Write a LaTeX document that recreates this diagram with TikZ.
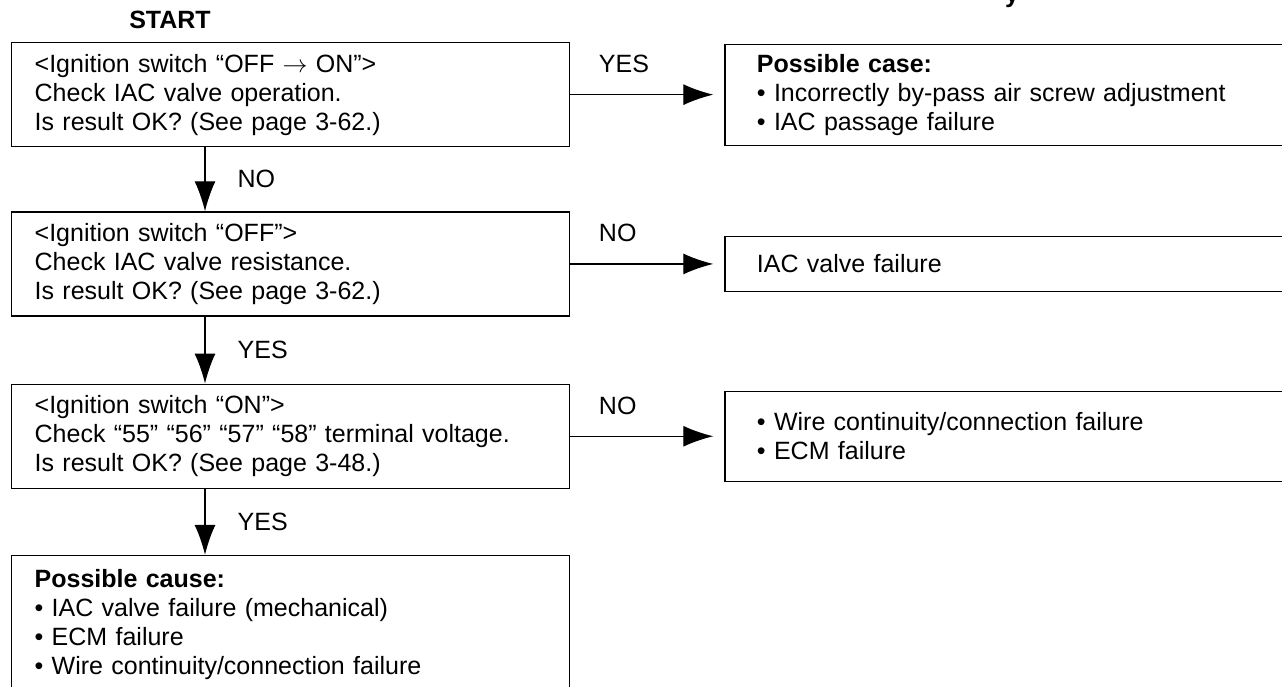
\documentclass[tikz,border=0pt]{standalone}
\usepackage{fontspec}
\setmainfont{Liberation Sans}
\usetikzlibrary{arrows.meta,positioning}

\tikzset{
  chkbox/.style={draw, line width=1.3pt, align=left, inner xsep=23pt, inner ysep=0pt,
    text width=512pt, minimum height=104pt, font=\fontsize{25}{29}\selectfont},
  resbox/.style={chkbox, inner xsep=32pt, text width=520pt},
  flow/.style={line width=1.3pt, -{Latex[length=30pt,width=21pt]}},
  lbl/.style={inner sep=0pt, font=\fontsize{25}{29}\selectfont}
}

\begin{document}
\begin{tikzpicture}[x=1pt, y=-1pt]
  \useasboundingbox (0,0) rectangle (1282,686);
  \clip (0,0) rectangle (1282,686);

  % Define coordinates
  \coordinate (dn) at (205,0);

  % Title and start
  \node[lbl, anchor=base, font=\bfseries\fontsize{25}{29}\selectfont] (ttl) at (1012,2) {y};
  \node[lbl, font=\bfseries\fontsize{25}{29}\selectfont] (start) at (170,20) {START};

  % Check steps
  \node[chkbox, anchor=north west] (s1) at (11,42)
    {<Ignition switch “OFF $\rightarrow$ ON”>\\Check IAC valve operation.\\Is result OK? (See page 3-62.)};
  \node[chkbox, below=64pt of s1] (s2)
    {<Ignition switch “OFF”>\\Check IAC valve resistance.\\Is result OK? (See page 3-62.)};
  \node[chkbox, below=67pt of s2] (s3)
    {<Ignition switch “ON”>\\Check “55” “56” “57” “58” terminal voltage.\\Is result OK? (See page 3-48.)};
  \node[chkbox, below=66pt of s3, minimum height=0pt, inner ysep=14pt] (s4)
    {\textbf{Possible cause:}\\\textbullet\ IAC valve failure (mechanical)\\\textbullet\ ECM failure\\\textbullet\ Wire continuity/connection failure\\[20pt]};

  % Results
  \node[resbox, right=154pt of s1, minimum height=101pt] (r1)
    {\textbf{Possible case:}\\\textbullet\ Incorrectly by-pass air screw adjustment\\\textbullet\ IAC passage failure};
  \node[resbox, right=154pt of s2, minimum height=55pt] (r2) {IAC valve failure};
  \node[resbox, right=154pt of s3, minimum height=90pt] (r3)
    {\textbullet\ Wire continuity/connection failure\\\textbullet\ ECM failure};

  % Flow
  \draw[flow, shorten >=11pt] (s1.east) node[lbl, anchor=base west, xshift=28pt, yshift=22pt] {YES} -- (r1.west);
  \draw[flow, shorten >=11pt] (s2.east) node[lbl, anchor=base west, xshift=28pt, yshift=22pt] {NO} -- (r2.west);
  \draw[flow, shorten >=11pt] (s3.east) node[lbl, anchor=base west, xshift=28pt, yshift=22pt] {NO} -- (r3.west);
  \draw[flow] (s1.south -| dn) -- node[lbl, anchor=west, xshift=32pt] {NO} (s2.north -| dn);
  \draw[flow] (s2.south -| dn) -- node[lbl, anchor=west, xshift=32pt] {YES} (s3.north -| dn);
  \draw[flow] (s3.south -| dn) -- node[lbl, anchor=west, xshift=32pt] {YES} (s4.north -| dn);
\end{tikzpicture}
\end{document}
